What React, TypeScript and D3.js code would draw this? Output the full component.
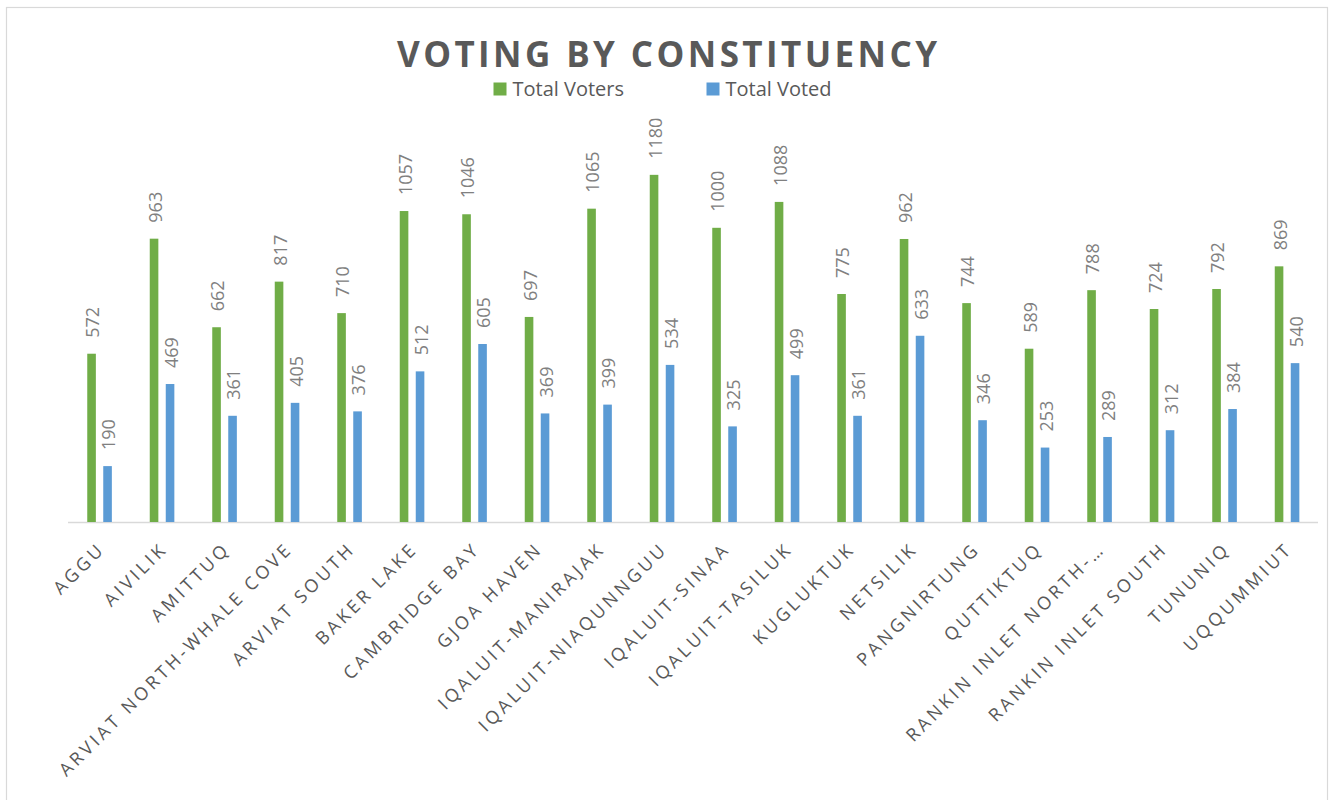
import React from "react";
import * as d3 from "d3";

const categories: string[] = [
  "AGGU", "AIVILIK", "AMITTUQ", "ARVIAT NORTH-WHALE COVE", "ARVIAT SOUTH",
  "BAKER LAKE", "CAMBRIDGE BAY", "GJOA HAVEN", "IQALUIT-MANIRAJAK", "IQALUIT-NIAQUNNGUU",
  "IQALUIT-SINAA", "IQALUIT-TASILUK", "KUGLUKTUK", "NETSILIK", "PANGNIRTUNG",
  "QUTTIKTUQ", "RANKIN INLET NORTH-…", "RANKIN INLET SOUTH", "TUNUNIQ", "UQQUMMIUT",
];
const totalVoters: number[] = [572, 963, 662, 817, 710, 1057, 1046, 697, 1065, 1180, 1000, 1088, 775, 962, 744, 589, 788, 724, 792, 869];
const totalVoted: number[] = [190, 469, 361, 405, 376, 512, 605, 369, 399, 534, 325, 499, 361, 633, 346, 253, 289, 312, 384, 540];
const seriesNames: string[] = ["Total Voters", "Total Voted"];
const seriesColors: string[] = ["#70ad47", "#5b9bd5"];
const title = "VOTING BY CONSTITUENCY";

const W = 1332;
const H = 800;
const plotLeft = 68;
const plotRight = 1318;
const baseY = 522;
const yMax = 1400;
const plotTop = baseY - yMax * 0.2942;

export default function App() {
  const x = d3.scaleBand<string>().domain(categories).range([plotLeft, plotRight]).padding(0);
  const y = d3.scaleLinear().domain([0, yMax]).range([baseY, plotTop]);
  const sub = d3.scaleBand<string>().domain(seriesNames).range([-12, 12.6]).paddingInner(0.4625).paddingOuter(0);
  const bw = sub.bandwidth();
  const series = [totalVoters, totalVoted];
  const font = "'Open Sans', 'DejaVu Sans', sans-serif";

  return (
    <svg width={W} height={H} style={{ position: "absolute", left: 0, top: 0, background: "#fff" }} fontFamily={font}>
      <rect x={0} y={0} width={W} height={H} fill="#fff" />
      <rect x={6.5} y={7.5} width={1321} height={810} fill="#fff" stroke="#d9d9d9" strokeWidth={1.2} />
      <text
        x={667}
        y={67}
        textAnchor="middle"
        fontSize={35}
        fontWeight={700}
        fill="#595959"
        textLength={540}
        lengthAdjust="spacing"
      >
        {title}
      </text>
      {seriesNames.map((s, i) => {
        const lx = [493.5, 706.5][i];
        return (
          <g key={s}>
            <rect x={lx} y={82.5} width={13} height={13} fill={seriesColors[i]} />
            <text x={lx + 19} y={95.5} fontSize={20} fill="#595959">{s}</text>
          </g>
        );
      })}
      <line x1={plotLeft} x2={plotRight} y1={baseY + 0.5} y2={baseY + 0.5} stroke="#d9d9d9" strokeWidth={1.5} />
      {categories.map((c, ci) => {
        const cx = (x(c) as number) + x.bandwidth() / 2;
        return (
          <g key={c}>
            {series.map((vals, si) => {
              const bx = cx + (sub(seriesNames[si]) as number);
              const v = vals[ci];
              const top = y(v);
              return (
                <g key={si}>
                  <rect x={bx} y={top} width={bw} height={baseY - top} fill={seriesColors[si]} />
                  <text
                    transform={`translate(${bx + bw / 2 + 1.5},${top - 16}) rotate(-90)`}
                    dy="0.35em"
                    fontSize={18}
                    fill="#808080"
                  >
                    {v}
                  </text>
                </g>
              );
            })}
            <text
              transform={`translate(${cx - 2},${baseY + 19}) rotate(-45)`}
              textAnchor="end"
              dy="0.71em"
              fontSize={18}
              letterSpacing={3.4}
              fill="#595959"
            >
              {c}
            </text>
          </g>
        );
      })}
    </svg>
  );
}
